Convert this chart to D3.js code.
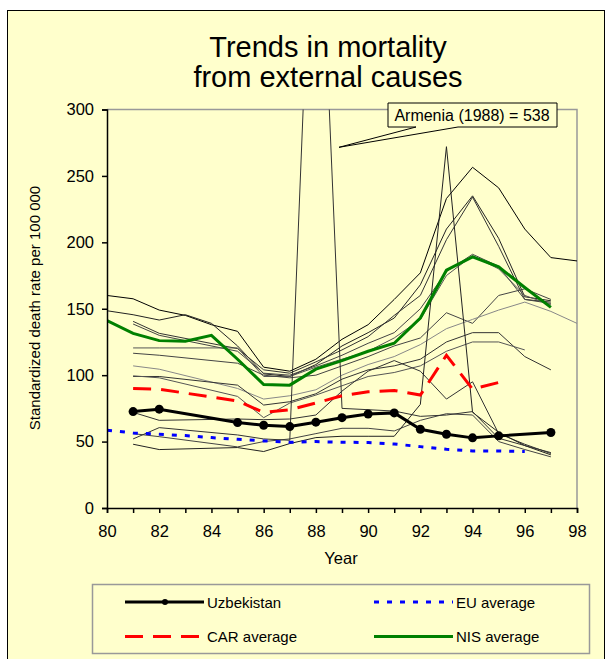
<!DOCTYPE html>
<html>
<head>
<meta charset="utf-8">
<script src="https://cdn.jsdelivr.net/npm/d3@7"></script>
<style>
  body { margin: 0; background: #fff; }
  text { font-family: "Liberation Sans", Arial, sans-serif; fill: #000; }
</style>
</head>
<body>
<svg id="chart" width="606" height="659"></svg>
<script>
// years on the x axis (19xx)
var years = [80, 81, 82, 83, 84, 85, 86, 87, 88, 89, 90, 91, 92, 93, 94, 95, 96, 97, 98];
var xTicks = [80, 82, 84, 86, 88, 90, 92, 94, 96, 98];
var yTicks = [0, 50, 100, 150, 200, 250, 300];

// highlighted series, aligned with years (null = no value)
var uzbekistan = [null, 72.6, 74.4, null, null, 64.3, 62.3, 61.3, 64.6, 68, 70.8, 71.6, 59.3, 55.5, 52.8, 54.3, null, 56.8, null];
var euAverage  = [58.5, 56.5, 55.5, 54.5, 53, 51.7, 50.5, 49.5, 50, 49.5, 49.3, 48.2, 46.2, 44.2, 43, 43, 42.5, null, null];
var carAverage = [null, 90, 89.5, null, null, 80.5, 72, 74, 79, 84.5, 87.5, 88.5, 85, 115, 89.5, 94.5, null, null, null];
var nisAverage = [141, 131.5, 126, 125.5, 130, 112, 93, 92.5, 104.5, 111, 118, 124, 143, 179, 189, 181.5, 166, 151, null];

// other countries, drawn as thin unlabelled lines
var armenia = [null, 52, 60.5, null, null, 55, 52, 51, 538, 75, 74, 73, 69, 70, 72.6, 52.5, 47, 41.7, null];
var others = [
  [160, 157.5, 149, 145, 138, 133, 106, 103, 112, 127, 138, 157, 177, 233, 256.5, 241, 210, 188.5, 186],
  [148.5, 145.5, 141.5, 145.5, 139, 122, 101, 99, 108, 122, 132, 143, 168, 210, 235, 203, 159, 156, null],
  [null, 140.5, 131.5, null, null, 120, 104, 101.5, 110, 119, 129, 145, 160, 202, 234, 197, 157, 155, null],
  [null, 138.5, 130, null, null, 118, 101.5, 100, 107, 115, 124, 132, 150, 178, 191, 182, 157, 154, null],
  [null, 120.5, 120.5, null, null, 120.5, 99, 99, 106, 112, 118, 128, 142, 175, 190, 180, 160, 153, null],
  [null, 116.5, 115, null, null, 109, 100, 98, 100, 107, 114, 122, 128, 147, 139, 160, 165, 157, null],
  [null, 107, 104.5, null, null, 90, 82, 84.5, 89, 100, 108, 114, 123, 135, 142, 149, 155, 148, 139],
  [null, 99, 99, null, null, 92.5, 77.5, 80, 86, 97, 104, 107, 112, 125, 132, 132, 114, 104, null],
  [null, 99.5, 98, null, null, 84, 68, 79, 85, 92, 99, 102, 107, 118, 125, 125, 119, null, null],
  [null, 72, 66, null, null, 67, 66.5, 67, 70, 88, 103, 111, 103, 82, 95, 56, 48, 41, null],
  [null, 56, 53.7, null, null, 46, 50, 52, 56, 60, 60, 58, 66, 71, 70, 50, 44, 38.5, null],
  [null, 48, 44, null, null, 45.5, 42.5, 48.5, 53, 54, 54, 54, 78, 272, 72, 57, 47, 40, null],
  armenia
];
var otherColors = ["#000", "#222", "#333", "#444", "#555", "#444", "#888", "#333", "#555", "#333", "#444", "#222", "#333"];

var svg = d3.select("#chart");

// chart background
svg.append("rect")
    .attr("x", 7.5).attr("y", 10.5)
    .attr("width", 597).attr("height", 660)
    .attr("fill", "#FFFFCC").attr("stroke", "#000");

svg.append("text").attr("x", 328).attr("y", 57)
    .attr("text-anchor", "middle").style("font-size", "29px")
    .text("Trends in mortality");
svg.append("text").attr("x", 328).attr("y", 87)
    .attr("text-anchor", "middle").style("font-size", "29px")
    .text("from external causes");

var plotLeft = 107, plotRight = 577, plotTop = 109.5, plotBottom = 508;

var x = d3.scaleLinear().domain([80, 98]).range([plotLeft, plotRight]);
var y = d3.scaleLinear().domain([0, 300]).range([plotBottom, plotTop]);

function pts(values) {
  return years.map(function(yr, i) { return {x: yr, y: values[i]}; })
    .filter(function(d) { return d.y != null; });
}

var line = d3.line()
    .x(function(d) { return x(d.x); })
    .y(function(d) { return y(d.y); });

svg.append("clipPath").attr("id", "plot")
  .append("rect").attr("x", plotLeft).attr("y", plotTop)
    .attr("width", plotRight - plotLeft).attr("height", plotBottom - plotTop);

// plot frame (top and right in grey)
svg.append("path")
    .attr("d", "M" + plotLeft + "," + plotTop + "H" + plotRight + "V" + plotBottom)
    .attr("fill", "none").attr("stroke", "#999").attr("stroke-width", 1.5);

var g = svg.append("g").attr("clip-path", "url(#plot)");

others.forEach(function(s, i) {
  g.append("path")
      .datum(pts(s))
      .attr("fill", "none")
      .attr("stroke", otherColors[i])
      .attr("stroke-width", 1)
      .attr("d", line);
});

g.append("path").datum(pts(nisAverage))
    .attr("fill", "none").attr("stroke", "#008000").attr("stroke-width", 3)
    .attr("d", line);
g.append("path").datum(pts(carAverage))
    .attr("fill", "none").attr("stroke", "#FF0000").attr("stroke-width", 3)
    .attr("stroke-dasharray", "18,10")
    .attr("d", line);
g.append("path").datum(pts(euAverage))
    .attr("fill", "none").attr("stroke", "#0000FF").attr("stroke-width", 3)
    .attr("stroke-dasharray", "5,8")
    .attr("d", line);
g.append("path").datum(pts(uzbekistan))
    .attr("fill", "none").attr("stroke", "#000").attr("stroke-width", 3)
    .attr("d", line);
g.selectAll("circle.uz").data(pts(uzbekistan)).enter()
  .append("circle").attr("class", "uz")
    .attr("cx", function(d) { return x(d.x); })
    .attr("cy", function(d) { return y(d.y); })
    .attr("r", 4.5).attr("fill", "#000");

// axes
var yAxis = svg.append("g")
    .attr("transform", "translate(" + plotLeft + ",0)")
    .call(d3.axisLeft(y).tickValues(yTicks).tickSize(5).tickPadding(8));
var xAxis = svg.append("g")
    .attr("transform", "translate(0," + plotBottom + ")")
    .call(d3.axisBottom(x).tickValues(years).tickSize(5).tickPadding(12)
      .tickFormat(function(d) { return xTicks.indexOf(d) >= 0 ? d : ""; }));
[yAxis, xAxis].forEach(function(a) {
  a.selectAll("path, line").attr("stroke", "#000").attr("stroke-width", 1.5);
  a.selectAll("text").style("font-size", "16.5px")
      .style("font-family", "'Liberation Sans', Arial, sans-serif");
});

svg.append("text").attr("x", 341).attr("y", 564)
    .attr("text-anchor", "middle").style("font-size", "16.5px").text("Year");
svg.append("text")
    .attr("transform", "translate(40,308) rotate(-90)")
    .attr("text-anchor", "middle").style("font-size", "15px")
    .text("Standardized death rate per 100 000");

// Armenia callout
svg.append("path")
    .attr("d", "M388,103H557V127H458L339,147.3L416,127H388Z")
    .attr("fill", "#FFFFCC").attr("stroke", "#000").attr("stroke-width", 1);
svg.append("text").attr("x", 472).attr("y", 121)
    .attr("text-anchor", "middle").style("font-size", "16px")
    .text("Armenia (1988) = 538");

// legend
var lg = svg.append("g");
lg.append("rect").attr("x", 92.5).attr("y", 584.5).attr("width", 497).attr("height", 69)
    .attr("fill", "#FFFFCC").attr("stroke", "#999").attr("stroke-width", 1.5);
var legendItems = [
  {name: "Uzbekistan", color: "#000", dash: null, dot: true, x: 125, y: 602},
  {name: "CAR average", color: "#FF0000", dash: "18,10", dot: false, x: 125, y: 636.5},
  {name: "EU average", color: "#0000FF", dash: "5,8", dot: false, x: 374, y: 602},
  {name: "NIS average", color: "#008000", dash: null, dot: false, x: 374, y: 636.5}
];
legendItems.forEach(function(d) {
  lg.append("line").attr("x1", d.x).attr("x2", d.x + 79)
      .attr("y1", d.y).attr("y2", d.y)
      .attr("stroke", d.color).attr("stroke-width", 3)
      .attr("stroke-dasharray", d.dash);
  if (d.dot) lg.append("circle").attr("cx", d.x + 40).attr("cy", d.y).attr("r", 3).attr("fill", d.color);
  lg.append("text").attr("x", d.x + 82).attr("y", d.y + 5.5)
      .style("font-size", "15px").text(d.name);
});
</script>
</body>
</html>
